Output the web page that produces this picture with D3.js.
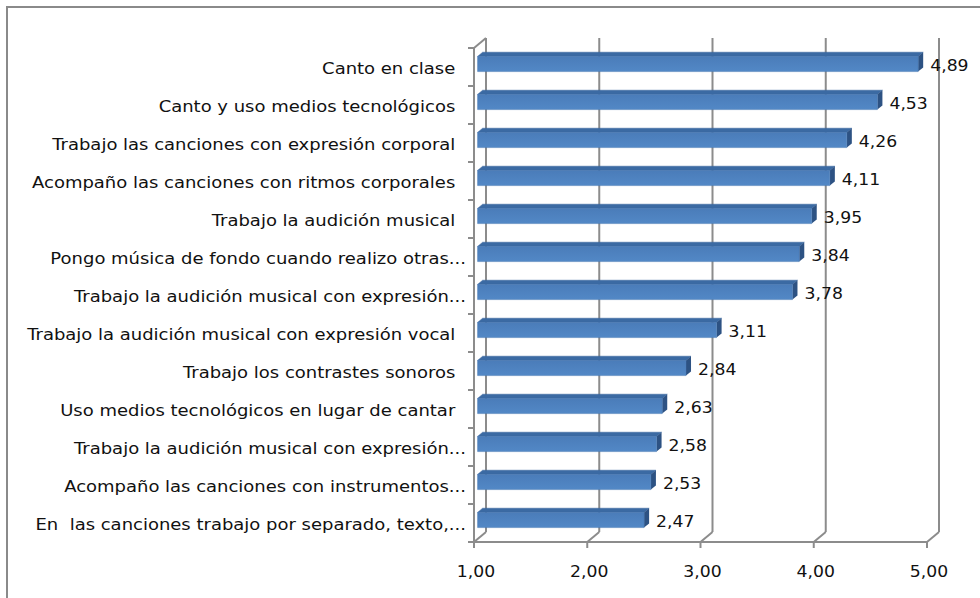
<!DOCTYPE html>
<html>
<head>
<meta charset="utf-8">
<script src="https://cdn.jsdelivr.net/npm/d3@7"></script>
<style>
  body { margin: 0; background: #fff; }
  svg text { font-family: "DejaVu Sans", Verdana, sans-serif; white-space: pre; }
</style>
</head>
<body>
<div id="chart"></div>
<script>
// categories, top to bottom
var categories = [
  "Canto en clase ",
  "Canto y uso medios tecnológicos ",
  "Trabajo las canciones con expresión corporal ",
  "Acompaño las canciones con ritmos corporales ",
  "Trabajo la audición musical ",
  "Pongo música de fondo cuando realizo otras...",
  "Trabajo la audición musical con expresión...",
  "Trabajo la audición musical con expresión vocal ",
  "Trabajo los contrastes sonoros ",
  "Uso medios tecnológicos en lugar de cantar ",
  "Trabajo la audición musical con expresión...",
  "Acompaño las canciones con instrumentos...",
  "En  las canciones trabajo por separado, texto,..."
];
var values = [4.89, 4.53, 4.26, 4.11, 3.95, 3.84, 3.78, 3.11, 2.84, 2.63, 2.58, 2.53, 2.47];
var ticks = [1, 2, 3, 4, 5];

var W = 980, H = 598;
var svg = d3.select("#chart").append("svg").attr("width", W).attr("height", H);

// outer frame
svg.append("rect").attr("x", 7).attr("y", 7).attr("width", 1000).attr("height", 1000)
  .attr("fill", "none").attr("stroke", "#8a8a8a").attr("stroke-width", 2);

// front plane scales + depth offset for the fake 3d
var x = d3.scaleLinear().domain([1, 5]).range([474, 927]);
var y = d3.scaleBand().domain(d3.range(categories.length)).range([48, 542]).paddingInner(0.6).paddingOuter(0.3);
var band = d3.scaleBand().domain(d3.range(categories.length)).range([48, 542]);
var dx = 12, dy = -10;
var top0 = 48, bot0 = 542;

var grid = svg.append("g").attr("stroke", "#8c8c8c").attr("stroke-width", 2).attr("fill", "none");

// back wall gridlines
grid.selectAll(".vg").data(ticks).enter().append("line")
  .attr("x1", function(d) { return x(d) + dx; }).attr("x2", function(d) { return x(d) + dx; })
  .attr("y1", top0 + dy).attr("y2", bot0 + dy);

// floor diagonals
grid.selectAll(".fd").data(ticks).enter().append("line")
  .attr("x1", function(d) { return x(d); }).attr("x2", function(d) { return x(d) + dx; })
  .attr("y1", bot0).attr("y2", bot0 + dy);

// front axis line + ticks
grid.append("line").attr("x1", x(1)).attr("x2", x(5)).attr("y1", bot0).attr("y2", bot0);
grid.selectAll(".xt").data(ticks).enter().append("line")
  .attr("x1", function(d) { return x(d); }).attr("x2", function(d) { return x(d); })
  .attr("y1", bot0).attr("y2", bot0 + 6);

// left wall
grid.append("line").attr("x1", x(1)).attr("x2", x(1)).attr("y1", top0).attr("y2", bot0);
grid.append("line").attr("x1", x(1)).attr("x2", x(1) + dx).attr("y1", top0).attr("y2", top0 + dy);
var bounds = d3.range(categories.length + 1).map(function(i) { return 48 + i * band.step(); });
grid.selectAll(".yt").data(bounds).enter().append("line")
  .attr("x1", x(1) - 6).attr("x2", x(1)).attr("y1", function(d) { return d; }).attr("y2", function(d) { return d; });

// bars
var tf = 0.3, tb = 0.72;
var defs = svg.append("defs");
var grad = defs.append("linearGradient").attr("id", "front").attr("x1", 0).attr("y1", 0).attr("x2", 0).attr("y2", 1);
grad.append("stop").attr("offset", "0%").attr("stop-color", "#4a7cb9");
grad.append("stop").attr("offset", "100%").attr("stop-color", "#5288c6");

function pt(v, t, yy) { return [x(v) + t * dx, yy + t * dy]; }
function poly(pts) { return pts.map(function(p) { return p.join(","); }).join(" "); }

var data = categories.map(function(c, i) { return { i: i, k: c, v: values[i] }; });
var bars = svg.selectAll(".bar").data(data).enter().append("g").attr("class", "bar");

bars.append("polygon").attr("fill", "#3b6aa3").attr("stroke", "#35619a").attr("stroke-width", 0.5)
  .attr("points", function(d) {
    var yt = y(d.i);
    return poly([pt(1, tf, yt), pt(d.v, tf, yt), pt(d.v, tb, yt), pt(1, tb, yt)]);
  });
bars.append("polygon").attr("fill", "#2d5283")
  .attr("points", function(d) {
    var yt = y(d.i), yb = yt + y.bandwidth();
    return poly([pt(d.v, tf, yt), pt(d.v, tb, yt), pt(d.v, tb, yb), pt(d.v, tf, yb)]);
  });
bars.append("polygon").attr("fill", "url(#front)").attr("stroke", "#4577b3").attr("stroke-width", 0.5)
  .attr("points", function(d) {
    var yt = y(d.i), yb = yt + y.bandwidth();
    return poly([pt(1, tf, yt), pt(d.v, tf, yt), pt(d.v, tf, yb), pt(1, tf, yb)]);
  });

var fmt = function(v) { return d3.format(".2f")(v).replace(".", ","); };

// text in the source is horizontally stretched, so scale x
var sxCat = 1.2, sxNum = 1.15;

// value labels
bars.append("text")
  .attr("transform", function(d) {
    return "translate(" + (x(d.v) + tb * dx + 7) + "," + (y(d.i) + y.bandwidth() / 2 + tf * dy + 2) + ") scale(" + sxNum + ",1)";
  })
  .attr("dy", "0.35em").attr("font-size", 15).attr("fill", "#111")
  .text(function(d) { return fmt(d.v); });

// category labels (the trailing space in excel is wider than ours)
svg.selectAll(".cat").data(data).enter().append("text")
  .attr("transform", function(d) {
    var ax = /\s$/.test(d.k) ? 461 : 466;
    return "translate(" + ax + "," + (band(d.i) + band.bandwidth() / 2 + 2) + ") scale(" + sxCat + ",1)";
  })
  .attr("dy", "0.35em").attr("text-anchor", "end").attr("font-size", 15).attr("fill", "#111")
  .text(function(d) { return d.k; });

// x tick labels
svg.selectAll(".xl").data(ticks).enter().append("text")
  .attr("transform", function(d) { return "translate(" + (x(d) + 2) + ",572) scale(" + sxNum + ",1)"; })
  .attr("dy", "0.35em")
  .attr("text-anchor", "middle").attr("font-size", 15).attr("fill", "#111")
  .text(fmt);
</script>
</body>
</html>
